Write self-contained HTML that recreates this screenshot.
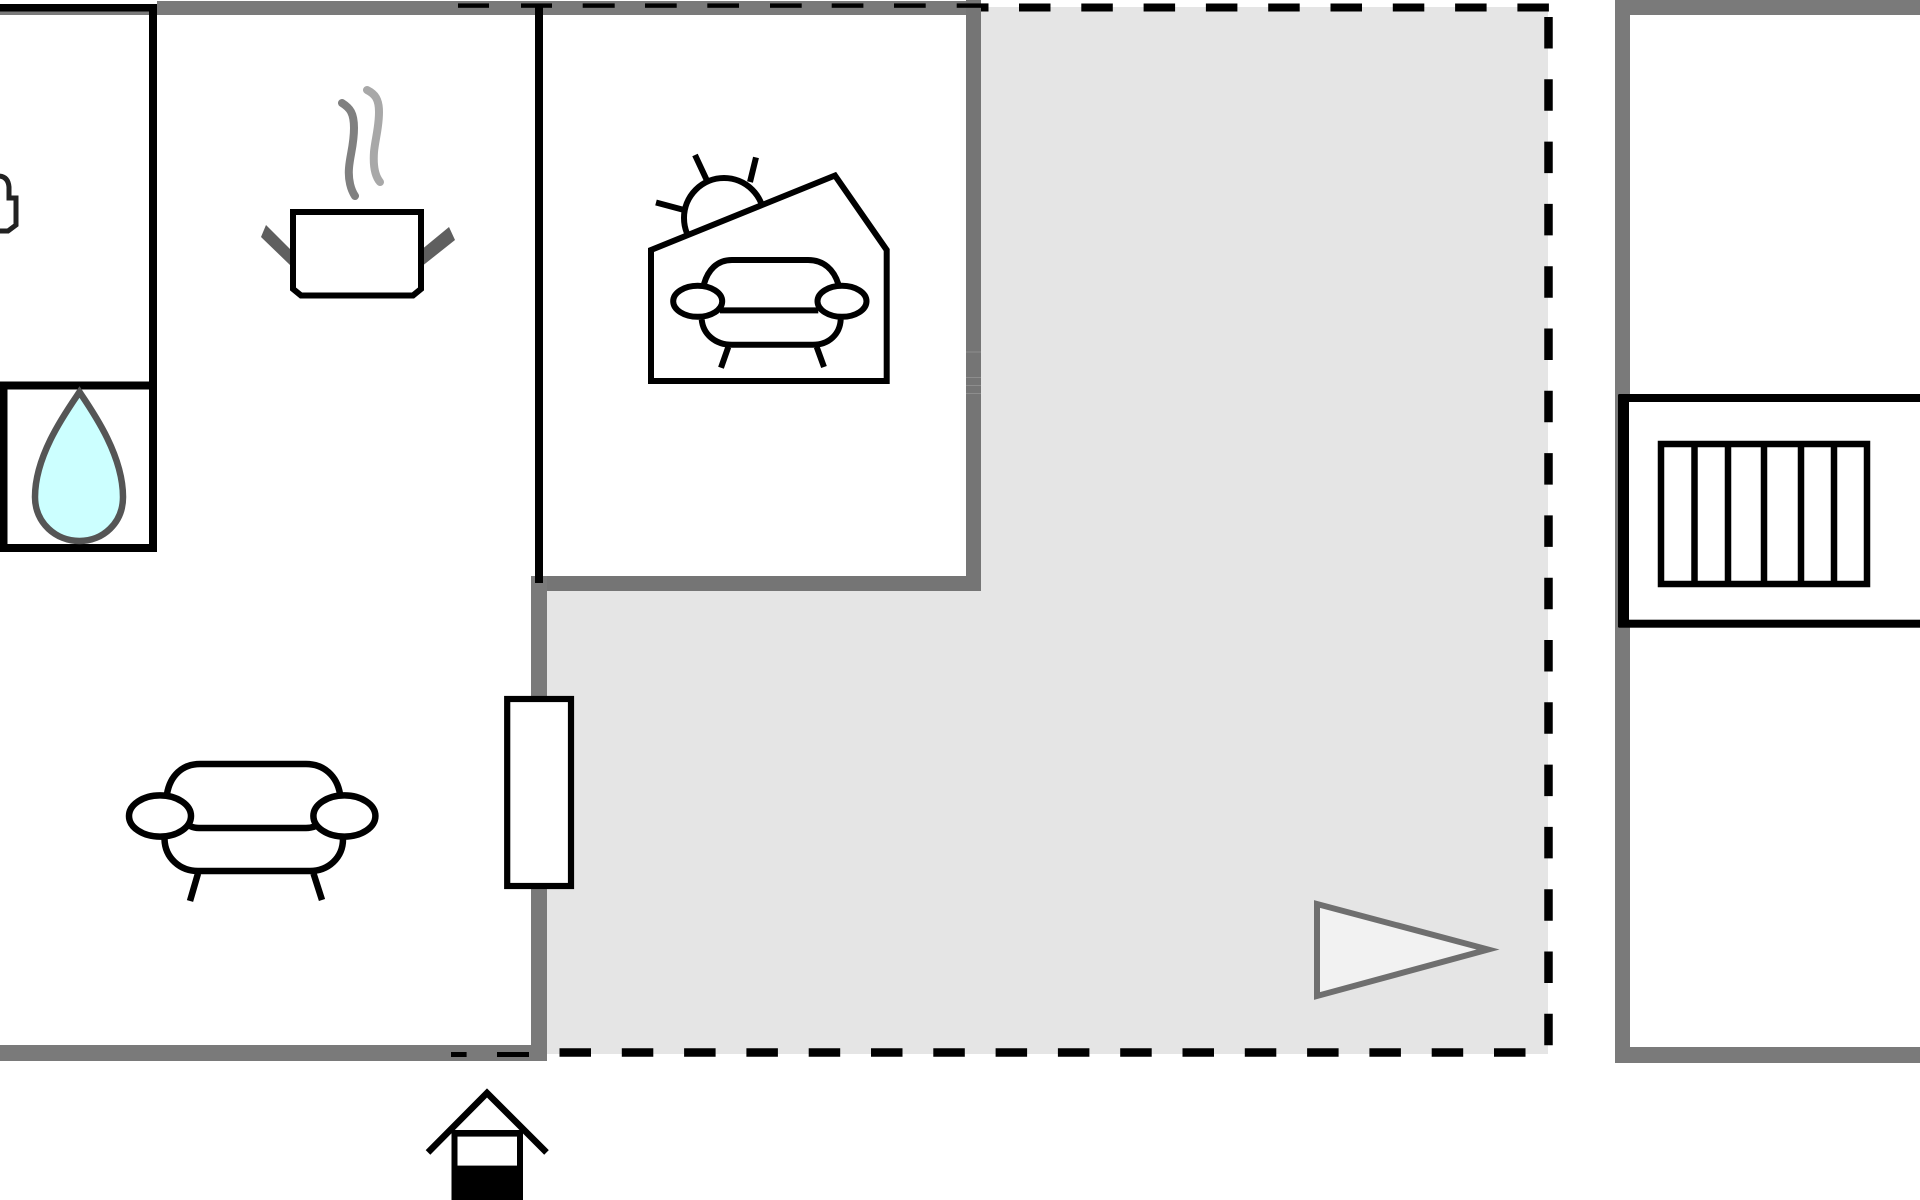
<!DOCTYPE html>
<html>
<head>
<meta charset="utf-8">
<title>Floor plan</title>
<style>
html,body{margin:0;padding:0;background:#fff;width:1920px;height:1200px;overflow:hidden}
svg{display:block}
</style>
</head>
<body>
<svg width="1920" height="1200" viewBox="0 0 1920 1200" xmlns="http://www.w3.org/2000/svg">
<rect width="1920" height="1200" fill="#fff"/>
<!-- grey terrace -->
<rect x="540" y="7" width="1008" height="1047" fill="#e5e5e5"/>
<!-- white room over terrace -->
<rect x="540" y="7" width="430" height="572" fill="#fff"/>
<!-- dashes on terrace -->
<path d="M973 7.5H988.5" stroke="#000" stroke-width="8"/>
<path d="M1019 7.5H1550" stroke="#000" stroke-width="8" stroke-dasharray="31.5 30.8" fill="none"/>
<path d="M1548.5 17V1048" stroke="#000" stroke-width="8.5" stroke-dasharray="31.5 30.8" fill="none"/>
<path d="M559.5 1052.5H1526" stroke="#000" stroke-width="8.5" stroke-dasharray="31.5 30.8" fill="none"/>
<!-- walls -->
<g fill="#7a7a7a">
<rect x="157" y="1" width="824" height="14"/>
<rect x="0" y="11" width="157" height="4"/>
<rect x="966" y="0" width="15" height="591" fill="#757575"/>
<rect x="532" y="576" width="449" height="15" fill="#757575"/>
<rect x="531" y="576" width="16" height="485"/>
<rect x="0" y="1045" width="547" height="16"/>
<rect x="1615" y="0" width="15" height="1063"/>
<rect x="1615" y="0" width="305" height="15"/>
<rect x="1615" y="1047" width="305" height="16"/>
</g>
<g stroke="#8d8d8d" stroke-width="1">
<path d="M966 352H981M966 377.5H981M966 385.5H981M966 393.5H981"/>
</g>
<!-- dashes on walls -->
<g fill="#000">
<rect x="458" y="3.4" width="31" height="4.4"/>
<rect x="521" y="3.4" width="31" height="4.4"/>
<rect x="582.7" y="3.4" width="32" height="4.4"/>
<rect x="645" y="3.4" width="31.7" height="4.4"/>
<rect x="707.3" y="3.4" width="31.7" height="4.4"/>
<rect x="770" y="3.4" width="31.7" height="4.4"/>
<rect x="831.7" y="3.4" width="31.7" height="4.4"/>
<rect x="894" y="3.4" width="31.7" height="4.4"/>
<rect x="956.7" y="3.4" width="31.7" height="4.4"/>
<rect x="451" y="1052" width="15.6" height="5"/>
<rect x="497" y="1052" width="32" height="5"/>
</g>
<!-- left bathroom box lines -->
<g fill="#000">
<rect x="0" y="4" width="157" height="7.5"/>
<rect x="149" y="4" width="8" height="548"/>
<rect x="0" y="381.5" width="157" height="8"/>
<rect x="0" y="544" width="157" height="8"/>
<rect x="0" y="381.5" width="7.5" height="170.5"/>
<rect x="535" y="5" width="8" height="578"/>
</g>
<path d="M-2 176Q8 176 9 187V198H16V225L8 231H-2" fill="#fff" stroke="#222" stroke-width="5"/>
<!-- drop -->
<path d="M79.5 392C66 412 35 455 35 497C35 523 56 541 79.5 541C103 541 123 523 123 497C123 455 93 412 79.5 392Z" fill="#ccffff" stroke="#555" stroke-width="6.5"/>
<!-- pot -->
<polygon points="266,225 261,237 290,265 290,249" fill="#5f5f5f"/>
<polygon points="423.5,248 449,227 455,240 423.5,265" fill="#5f5f5f"/>
<path d="M293 212H421V289L413 295.5H301L293 289Z" fill="#fff" stroke="#000" stroke-width="6"/>
<path d="M342 103C350 108 354 113 354 128C354 145 350 155 349 168C348 180 351 190 355 196" fill="none" stroke="#808080" stroke-width="8" stroke-linecap="round"/>
<path d="M367 90C375 94 379 99 379 112C379 128 375 140 374 152C373 166 375 176 380 182" fill="none" stroke="#a8a8a8" stroke-width="8" stroke-linecap="round"/>
<!-- sofa 1 -->
<g fill="none" stroke="#000" stroke-width="6.5">
<path d="M167 794C170 776 182 764 200 764H306C324 764 337 776 340 794"/>
<path d="M190 826Q194 828 199 828H306Q311 828 316 826"/>
<path d="M164.5 839C165 858 180 871 198 871H310C328 871 343 858 343 839"/>
<path d="M198 873.5L190 901M313.5 873.5L322 900"/>
<ellipse cx="160" cy="816" rx="31" ry="20.6" fill="#fff"/>
<ellipse cx="344.4" cy="816" rx="31" ry="20.6" fill="#fff"/>
</g>
<!-- sun house -->
<g fill="none" stroke="#000" stroke-width="6">
<circle cx="724" cy="218" r="40" fill="#fff"/>
<path d="M695 155L706.7 180M756 157.4L750 182M656 202.5L682.7 209.6"/>
<polygon points="651,381 886.7,381 886.7,250 835,175.5 651,250" fill="#fff" stroke-miterlimit="10"/>
<path d="M704 284C708 270 717 260 732 260H808C824 260 834 270 838.3 284"/>
<path d="M720 310.4H818.3"/>
<path d="M701.7 319.5C703 334 715 344.8 732 344.8H813C829 344.8 840 334 840.7 319.5"/>
<path d="M728.3 347L721 367.7M816.7 347L824 367"/>
<ellipse cx="697.7" cy="301.3" rx="24.5" ry="15.5" fill="#fff"/>
<ellipse cx="842" cy="301.3" rx="24.5" ry="15.5" fill="#fff"/>
</g>
<!-- door on wall -->
<rect x="507.2" y="699" width="63.8" height="187" fill="#fff" stroke="#000" stroke-width="6.2"/>
<!-- entrance -->
<path d="M428 1152.4L487 1093L546.5 1152.4" fill="none" stroke="#000" stroke-width="6.5" stroke-miterlimit="10"/>
<rect x="451.5" y="1130" width="71.5" height="70" fill="#000"/>
<rect x="457.5" y="1136.6" width="59.5" height="29" fill="#fff"/>
<!-- triangle -->
<polygon points="1317,904 1488,949.5 1317,996" fill="#f2f2f2" stroke="#6f6f6f" stroke-width="6" stroke-miterlimit="10"/>
<!-- stairs -->
<rect x="1623" y="398" width="320" height="225.7" fill="#fff" stroke="#000" stroke-width="8"/>
<rect x="1618" y="394.4" width="11" height="233" fill="#000"/>
<rect x="1661" y="444" width="206" height="140" fill="#fff" stroke="#000" stroke-width="6.5"/>
<path d="M1694.5 444V584M1728 444V584M1764 444V584M1801 444V584M1834 444V584" stroke="#000" stroke-width="6.5" fill="none"/>
</svg>
</body>
</html>
